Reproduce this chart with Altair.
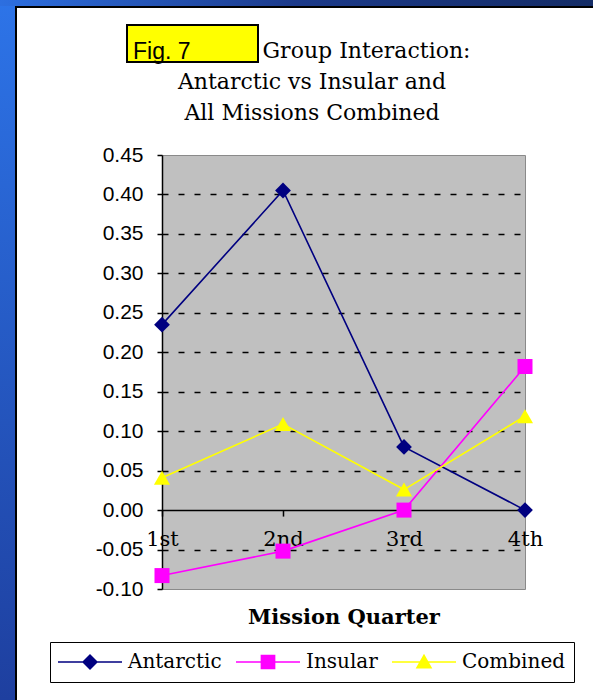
import altair as alt
import pandas as pd

# Quarterly mean group-interaction scores per mission type
quarters = ["1st", "2nd", "3rd", "4th"]
series_names = ["Antarctic", "Insular", "Combined"]
antarctic = [0.235, 0.405, 0.080, 0.000]
insular = [-0.083, -0.052, 0.000, 0.182]
combined = [0.041, 0.109, 0.026, 0.119]

series_colors = ["#000080", "#ff00ff", "#ffff00"]
marker_shapes = ["diamond", "square", "triangle-up"]
y_ticks = [-0.10, -0.05, 0.00, 0.05, 0.10, 0.15, 0.20, 0.25, 0.30, 0.35, 0.40, 0.45]
title_lines = ["Figure 7. Group Interaction:", "Antarctic vs Insular and", "All Missions Combined"]
fig_label = "Fig. 7"

rows = []
for name, vals in zip(series_names, [antarctic, insular, combined]):
    for q, v in zip(quarters, vals):
        rows.append({"quarter": q, "series": name, "value": v})
df = pd.DataFrame(rows)

# plot-area geometry (pixels)
W, H = 363, 434
PAD_L, PAD_T, PAD_R, PAD_B = 162, 155, 68, 111
Y_MIN, Y_MAX = -0.10, 0.45
zero_offset = -H * (0 - Y_MIN) / (Y_MAX - Y_MIN)  # lift the category axis onto y = 0

SERIF = "DejaVu Serif"
SANS = "Liberation Sans"

x_enc = alt.X(
    "quarter:N",
    sort=quarters,
    scale=alt.Scale(type="point", padding=0),
    axis=alt.Axis(
        title="Mission Quarter",
        titleFont=SERIF,
        titleFontSize=21,
        titleFontWeight="bold",
        titleColor="black",
        titlePadding=57,
        labelFont=SERIF,
        labelFontSize=21,
        labelColor="black",
        labelAngle=0,
        labelPadding=12,
        tickSize=6,
        tickColor="black",
        tickWidth=1.5,
        domainColor="black",
        domainWidth=1.5,
        offset=zero_offset,
        grid=False,
    ),
)

y_enc = alt.Y(
    "value:Q",
    scale=alt.Scale(domain=[Y_MIN, Y_MAX], nice=False, zero=False),
    axis=alt.Axis(
        title=None,
        values=y_ticks,
        labelExpr="(datum.value < -0.0001 ? '-' : '') + format(abs(datum.value), '.2f')",
        labelFont=SANS,
        labelFontSize=21,
        labelColor="black",
        labelPadding=14,
        tickSize=5,
        tickColor="black",
        tickWidth=1.5,
        domainColor="black",
        domainWidth=1.5,
        grid=True,
        gridColor="black",
        gridWidth=1.3,
        gridDash=[6, 10],
        gridOpacity={
            "condition": {
                "test": "abs(datum.value) < 0.0001 || datum.value < -0.099 || datum.value > 0.449",
                "value": 0,
            },
            "value": 1,
        },
    ),
)

# slide frame: blue side band, navy top band, black panel edge
frame_src = pd.DataFrame({"k": [0]})
left_band = alt.Chart(frame_src).mark_rect(
    color=alt.LinearGradient(
        gradient="linear",
        stops=[alt.GradientStop(color="#2d74e8", offset=0), alt.GradientStop(color="#1e3f9f", offset=1)],
        x1=0, x2=0, y1=0, y2=1,
    )
).encode(x=alt.value(-PAD_L), x2=alt.value(-PAD_L + 15), y=alt.value(-PAD_T), y2=alt.value(H + PAD_B))
top_band = alt.Chart(frame_src).mark_rect(
    color=alt.LinearGradient(
        gradient="linear",
        stops=[alt.GradientStop(color="#2d6fe0", offset=0), alt.GradientStop(color="#1c3a8a", offset=0.5),
               alt.GradientStop(color="#142c66", offset=1)],
        x1=0, x2=1, y1=0, y2=0,
    )
).encode(x=alt.value(-PAD_L), x2=alt.value(W + PAD_R), y=alt.value(-PAD_T), y2=alt.value(-PAD_T + 6))
edge_left = alt.Chart(frame_src).mark_rect(color="black").encode(
    x=alt.value(-PAD_L + 15), x2=alt.value(-PAD_L + 17), y=alt.value(-PAD_T + 6), y2=alt.value(H + PAD_B)
)
edge_top = alt.Chart(frame_src).mark_rect(color="black").encode(
    x=alt.value(-PAD_L + 15), x2=alt.value(W + PAD_R), y=alt.value(-PAD_T + 6), y2=alt.value(-PAD_T + 8)
)

title_text = alt.Chart(frame_src).mark_text(
    font=SERIF, fontSize=22, color="black", align="center", baseline="top", lineHeight=31
).encode(x=alt.value(150), y=alt.value(-114), text=alt.value(title_lines))

fig_box = alt.Chart(frame_src).mark_rect(fill="#ffff00", stroke="black", strokeWidth=2).encode(
    x=alt.value(-35), x2=alt.value(96), y=alt.value(-130), y2=alt.value(-93)
)
fig_text = alt.Chart(frame_src).mark_text(
    font=SANS, fontSize=23, color="black", align="left", baseline="alphabetic"
).encode(x=alt.value(-29), y=alt.value(-96), text=alt.value(fig_label))

# one line + marker layer per series
series_layers = []
for name, colour, shape, size in zip(series_names, series_colors, marker_shapes, [250, 225, 260]):
    sub = alt.Chart(df).transform_filter(alt.datum.series == name)
    series_layers.append(sub.mark_line(strokeWidth=1.6, color=colour).encode(x=x_enc, y=y_enc))
for name, colour, shape, size in zip(series_names, series_colors, marker_shapes, [250, 225, 260]):
    sub = alt.Chart(df).transform_filter(alt.datum.series == name)
    series_layers.append(
        sub.mark_point(shape=shape, filled=True, opacity=1, size=size, color=colour).encode(x=x_enc, y=y_enc)
    )

# legend keys: a line segment with the series marker centred on it
legend_paths = [
    "M-1,-0.024H1V0.024H-1Z M-0.25,0L0,-0.25L0.25,0L0,0.25Z",
    "M-1,-0.024H1V0.024H-1Z M-0.23,-0.23H0.23V0.23H-0.23Z",
    "M-1,-0.024H1V0.024H-1Z M0,-0.26L0.26,0.2L-0.26,0.2Z",
]
legend_spec = alt.Legend(
    title=None,
    orient="none",
    legendX=-112,
    legendY=487,
    direction="horizontal",
    columns=3,
    symbolSize=4096,
    clipHeight=24,
    symbolStrokeWidth=0,
    symbolOpacity=1,
    labelFont=SERIF,
    labelFontSize=20,
    labelColor="black",
    labelOffset=6,
    columnPadding=14,
    padding=8,
    strokeColor="black",
    fillColor="white",
)
# zero-size points: they carry the shape/colour legend without drawing anything
legend_keys = (
    alt.Chart(df)
    .mark_point(filled=True, size=0, opacity=1)
    .encode(
        x=x_enc,
        y=y_enc,
        color=alt.Color("series:N", scale=alt.Scale(domain=series_names, range=series_colors), legend=legend_spec),
        shape=alt.Shape("series:N", scale=alt.Scale(domain=series_names, range=legend_paths), legend=legend_spec),
    )
)

chart = (
    alt.layer(left_band, top_band, edge_left, edge_top, title_text, fig_box, fig_text,
              *series_layers, legend_keys)
    .properties(
        width=W,
        height=H,
        padding={"left": PAD_L, "top": PAD_T, "right": PAD_R, "bottom": PAD_B},
        autosize=alt.AutoSizeParams(type="none"),
        background="white",
    )
    .configure_view(fill="#c0c0c0", stroke="#8a8a8a", strokeWidth=1)
)

chart.save("out.html", embed_options={"renderer": "svg", "actions": False})
